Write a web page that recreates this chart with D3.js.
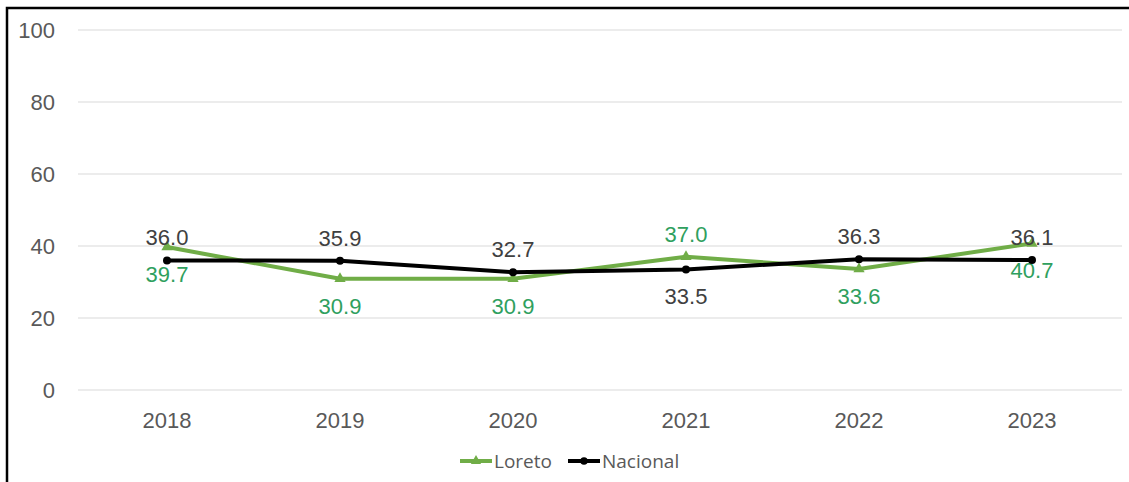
<!DOCTYPE html>
<html>
<head>
<meta charset="utf-8">
<script src="https://cdn.jsdelivr.net/npm/d3@7"></script>
<style>
  body { margin: 0; background: #fff; }
  svg { display: block; font-family: "Liberation Sans", Arial, sans-serif; }
</style>
</head>
<body>
<div id="chart"></div>
<script>
var width = 1129, height = 482;

// data
var years = ["2018", "2019", "2020", "2021", "2022", "2023"];
var loreto = [39.7, 30.9, 30.9, 37.0, 33.6, 40.7];
var nacional = [36.0, 35.9, 32.7, 33.5, 36.3, 36.1];
var yTicks = [0, 20, 40, 60, 80, 100];
// label above (true) or below (false) the point
var loretoAbove = [false, false, false, true, false, false];
var nacionalAbove = [true, true, true, false, true, true];

var svg = d3.select("#chart").append("svg")
  .attr("width", width)
  .attr("height", height);

// outer frame
svg.append("rect")
  .attr("x", 7).attr("y", 8)
  .attr("width", width + 20).attr("height", height + 20)
  .attr("fill", "none")
  .attr("stroke", "#000")
  .attr("stroke-width", 2.5);

var xScale = d3.scaleBand().domain(years).range([80.5, 1118.5]);
var yScale = d3.scaleLinear().domain([0, 100]).range([390, 30]);

// gridlines
svg.append("g").selectAll("line")
  .data(yTicks)
  .enter().append("line")
  .attr("x1", 78).attr("x2", 1122)
  .attr("y1", d => yScale(d)).attr("y2", d => yScale(d))
  .attr("stroke", "#d9d9d9")
  .attr("stroke-width", 1);

// y tick labels
svg.append("g").selectAll("text")
  .data(yTicks)
  .enter().append("text")
  .attr("x", 55)
  .attr("y", d => yScale(d) + 8)
  .attr("text-anchor", "end")
  .attr("fill", "#595959")
  .style("font-size", "22px")
  .text(d => d);

// x tick labels
svg.append("g").selectAll("text")
  .data(years)
  .enter().append("text")
  .attr("x", d => xScale(d) + xScale.bandwidth() / 2)
  .attr("y", 428)
  .attr("text-anchor", "middle")
  .attr("fill", "#595959")
  .style("font-size", "22px")
  .text(d => d);

var cx = d => xScale(d) + xScale.bandwidth() / 2;

function drawSeries(values, color, labelColor, above, marker) {
  var line = d3.line()
    .x((d, i) => cx(years[i]))
    .y(d => yScale(d));

  svg.append("path")
    .datum(values)
    .attr("d", line)
    .attr("fill", "none")
    .attr("stroke", color)
    .attr("stroke-width", 4)
    .attr("stroke-linejoin", "round");

  svg.append("g").selectAll("path")
    .data(values)
    .enter().append("path")
    .attr("transform", (d, i) => "translate(" + cx(years[i]) + "," + yScale(d) + ")")
    .attr("d", d3.symbol().type(marker).size(marker === d3.symbolTriangle ? 55 : 50))
    .attr("fill", color);

  svg.append("g").selectAll("text")
    .data(values)
    .enter().append("text")
    .attr("x", (d, i) => cx(years[i]))
    .attr("y", (d, i) => above[i] ? yScale(d) - 15 : yScale(d) + 35)
    .attr("text-anchor", "middle")
    .attr("fill", labelColor)
    .style("font-size", "22px")
    .text(d => d.toFixed(1));
}

drawSeries(loreto, "#70AD47", "#2FA05E", loretoAbove, d3.symbolTriangle);
drawSeries(nacional, "#000000", "#404040", nacionalAbove, d3.symbolCircle);

// legend
var legend = [
  { name: "Loreto", color: "#70AD47", marker: d3.symbolTriangle, x: 460 },
  { name: "Nacional", color: "#000000", marker: d3.symbolCircle, x: 568 }
];
var lg = svg.append("g").selectAll("g")
  .data(legend)
  .enter().append("g")
  .attr("transform", d => "translate(" + d.x + ",461)");

lg.append("line")
  .attr("x1", 0).attr("x2", 32)
  .attr("stroke", d => d.color)
  .attr("stroke-width", 4);

lg.append("path")
  .attr("transform", "translate(16,0)")
  .attr("d", d => d3.symbol().type(d.marker).size(45)())
  .attr("fill", d => d.color);

lg.append("text")
  .attr("x", 34)
  .attr("y", 6.5)
  .attr("fill", "#595959")
  .style("font-family", "'Open Sans', sans-serif")
  .style("font-size", "19px")
  .text(d => d.name);
</script>
</body>
</html>
